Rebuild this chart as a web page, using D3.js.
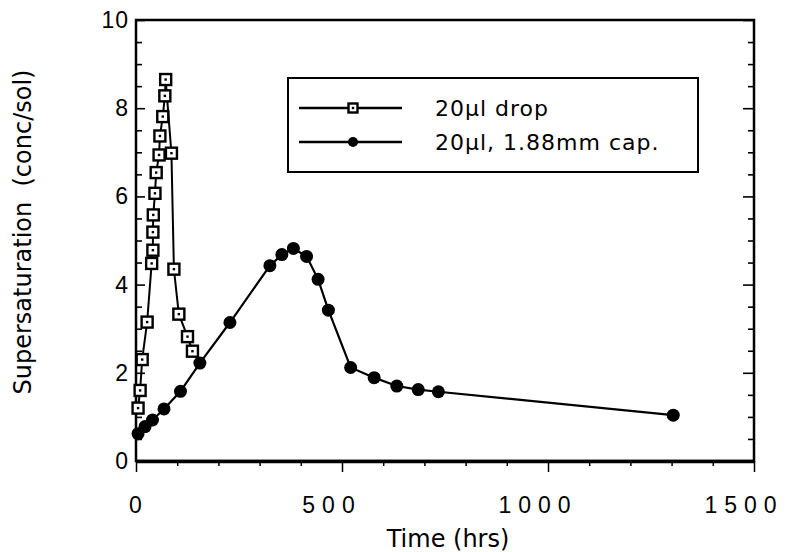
<!DOCTYPE html>
<html>
<head>
<meta charset="utf-8">
<script src="https://cdn.jsdelivr.net/npm/d3@7/dist/d3.min.js"></script>
<style>
  body { margin: 0; background: #fff; }
  svg { display: block; font-family: "Liberation Sans", Arial, Helvetica, sans-serif; }
  .wide { font-family: "DejaVu Sans", "Liberation Sans", sans-serif; }
</style>
</head>
<body>
<svg id="chart" width="792" height="552"></svg>
<script>
// 20 µl hanging drop: time (hrs) and supersaturation
const dropTime  = [5, 10, 15, 27, 38, 41, 41, 42, 46, 49, 56, 58, 65, 70, 72, 86, 92, 104, 125, 137];
const dropSuper = [1.2, 1.6, 2.3, 3.15, 4.48, 4.78, 5.19, 5.58, 6.07, 6.54, 6.94, 7.37, 7.81, 8.28, 8.65, 6.98, 4.35, 3.33, 2.82, 2.49];

// 20 µl in a 1.88 mm capillary
const capTime  = [5, 22, 40, 68, 108, 155, 228, 325, 354, 382, 414, 442, 467, 521, 578, 633, 685, 734, 1304];
const capSuper = [0.62, 0.78, 0.93, 1.18, 1.58, 2.22, 3.14, 4.43, 4.68, 4.82, 4.64, 4.12, 3.42, 2.12, 1.89, 1.70, 1.62, 1.57, 1.04];

const xTickValues = [0, 500, 1000, 1500];
const yTickValues = [0, 2, 4, 6, 8, 10];
const seriesNames = ["20\u00b5l drop", "20\u00b5l, 1.88mm cap."];

const svg = d3.select("#chart");
const plotL = 136, plotR = 754, plotT = 20, plotB = 461;

const x = d3.scaleLinear().domain([0, 1500]).range([plotL, plotR]);
const y = d3.scaleLinear().domain([0, 10]).range([plotB, plotT]);

// frame
svg.append("rect")
  .attr("x", plotL).attr("y", plotT)
  .attr("width", plotR - plotL).attr("height", plotB - plotT)
  .attr("fill", "none").attr("stroke", "#000").attr("stroke-width", 2.5);

// bottom axis: ticks hang below the frame
const xMinor = d3.range(0, 1501, 100);
const bottomAxis = d3.axisBottom(x).tickValues(xMinor)
  .tickSize(0).tickFormat("");
const gx = svg.append("g").attr("transform", `translate(0,${plotB})`).call(bottomAxis);
gx.select(".domain").attr("stroke-width", 3.5);
gx.selectAll(".tick line")
  .attr("y2", d => (d % 500 === 0 ? 11 : 5))
  .attr("stroke-width", 1.5);

// wide-spaced tick numerals, nudged left of their ticks
gx.selectAll(".xlabel").data(xTickValues).join("text")
  .attr("class", "xlabel")
  .attr("x", d => x(d)).attr("dx", d => (d === 0 ? 3 : -10)).attr("y", 52)
  .attr("text-anchor", "middle")
  .attr("font-size", 23).attr("letter-spacing", 7)
  .attr("fill", "#000")
  .text(d => d);

// left and right axes: ticks point into the plot
const yMinor = d3.range(0, 10.01, 0.5);
const leftAxis = d3.axisRight(y).tickValues(yMinor).tickSize(0).tickFormat("");
const gl = svg.append("g").attr("transform", `translate(${plotL},0)`).call(leftAxis);
gl.select(".domain").remove();
gl.selectAll(".tick line")
  .attr("x2", d => (Math.abs(d % 2) < 1e-9 ? 9 : 6))
  .attr("stroke-width", 1.6);

const rightAxis = d3.axisLeft(y).tickValues(yMinor).tickSize(0).tickFormat("");
const gr = svg.append("g").attr("transform", `translate(${plotR},0)`).call(rightAxis);
gr.select(".domain").remove();
gr.selectAll(".tick line")
  .attr("x2", d => (Math.abs(d % 2) < 1e-9 ? -11 : -6))
  .attr("stroke-width", 1.6);

svg.selectAll(".ylabel").data(yTickValues).join("text")
  .attr("class", "ylabel")
  .attr("x", 129).attr("y", d => y(d) + 8)
  .attr("text-anchor", "end")
  .attr("font-size", 23).attr("letter-spacing", 1)
  .attr("fill", "#000")
  .text(d => d);

// axis titles
svg.append("text")
  .attr("class", "wide")
  .attr("x", 448).attr("y", 547)
  .attr("text-anchor", "middle")
  .attr("font-size", 24)
  .text("Time (hrs)");

svg.append("text")
  .attr("class", "wide")
  .attr("transform", `translate(31,${232}) rotate(-90)`)
  .attr("text-anchor", "middle")
  .attr("font-size", 24)
  .style("white-space", "pre")
  .text("Supersaturation  (conc/sol)");

// series
const line = d3.line().x(d => x(d[0])).y(d => y(d[1]));
const dropData = dropTime.map((t, i) => [t, dropSuper[i]]);
const capData = capTime.map((t, i) => [t, capSuper[i]]);

svg.append("path").datum(capData).attr("d", line)
  .attr("fill", "none").attr("stroke", "#000").attr("stroke-width", 2.2);
svg.append("path").datum(dropData).attr("d", line)
  .attr("fill", "none").attr("stroke", "#000").attr("stroke-width", 2);

function drawCircle(g, cx, cy, r) {
  g.append("circle").attr("cx", cx).attr("cy", cy).attr("r", r).attr("fill", "#000");
}
function drawSquare(g, cx, cy, s) {
  g.append("rect").attr("x", cx - s / 2).attr("y", cy - s / 2)
    .attr("width", s).attr("height", s)
    .attr("fill", "#fff").attr("stroke", "#000").attr("stroke-width", 2.4);
  g.append("rect").attr("x", cx - 1.2).attr("y", cy - 1.2)
    .attr("width", 2.4).attr("height", 2.4).attr("fill", "#000");
}

const gCap = svg.append("g");
capData.forEach(d => drawCircle(gCap, x(d[0]), y(d[1]), 6.5));
const gDrop = svg.append("g");
dropData.forEach(d => drawSquare(gDrop, x(d[0]), y(d[1]), 11));

// legend
const lg = svg.append("g");
lg.append("rect").attr("x", 288).attr("y", 78).attr("width", 410).attr("height", 94)
  .attr("fill", "#fff").attr("stroke", "#000").attr("stroke-width", 2);
const legendRows = [
  { name: seriesNames[0], y: 108, square: true },
  { name: seriesNames[1], y: 142, square: false }
];
legendRows.forEach(r => {
  lg.append("line").attr("x1", 299).attr("x2", 402).attr("y1", r.y).attr("y2", r.y)
    .attr("stroke", "#000").attr("stroke-width", 2.4);
  if (r.square) drawSquare(lg, 353, r.y, 9);
  else drawCircle(lg, 353, r.y, 5);
  lg.append("text").attr("class", "wide")
    .attr("x", 435).attr("y", r.y + 8)
    .attr("font-size", 22).attr("letter-spacing", 1)
    .text(r.name);
});
</script>
</body>
</html>
